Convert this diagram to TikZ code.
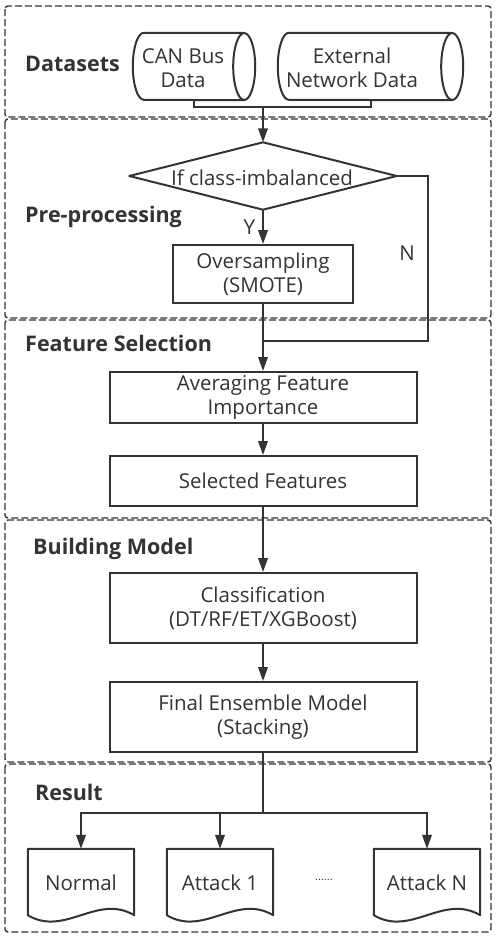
\documentclass[tikz,border=0pt]{standalone}
\usepackage{fontspec}
\setmainfont{Open Sans}
\usetikzlibrary{arrows.meta}
\definecolor{ink}{HTML}{333333}
\tikzset{
  sect/.style={draw=ink, line width=1.4pt, dash pattern=on 7pt off 3pt, rounded corners=3pt},
  box/.style={draw=ink, line width=2pt, align=center, text=ink, inner sep=0pt, font=\fontsize{20.5}{24}\selectfont},
  ghost/.style={draw=none, inner sep=0pt},
  txt/.style={text=ink, align=center, inner sep=0pt, font=\fontsize{20.5}{24}\selectfont},
  lbl/.style={text=ink, anchor=west, inner sep=0pt, font=\fontsize{21.5}{24}\selectfont\bfseries},
  conn/.style={draw=ink, line width=2pt},
  arr/.style={conn, -{Triangle[length=14pt,width=9.5pt]}},
  shp/.style={draw=ink, line width=2pt, line join=round},
}
\begin{document}
\begin{tikzpicture}[x=1pt,y=-1pt]
\useasboundingbox (0,0) rectangle (498,938);
\fill[white] (0,0) rectangle (498,938);
% section frames
\draw[sect] (5,6) rectangle (491,117);
\draw[sect] (5,119) rectangle (491,318);
\draw[sect] (5,320) rectangle (491,518);
\draw[sect] (5,520) rectangle (491,762);
\draw[sect] (5,764) rectangle (491,932);
% section labels
\node[lbl] (l1) at (25,64) {Datasets};
\node[lbl] (l2) at (25,217) {Pre-processing};
\node[lbl] (l3) at (25,343) {Feature Selection};
\node[lbl] (l4) at (33,549) {Building Model};
\node[lbl] (l5) at (35,792) {Result};
% cylinders
\node[ghost, minimum width=122pt, minimum height=67pt] (can) at (194,66.5) {};
\node[txt] (cant) at (183,68) {CAN Bus\\Data};
\draw[shp] ([xshift=-11pt]can.north east) -- ([xshift=11pt]can.north west)
  arc[start angle=90, end angle=270, x radius=11pt, y radius=33.5pt]
  -- ([xshift=-11pt]can.south east);
\draw[shp] ([xshift=-11pt]can.east) ellipse[x radius=11pt, y radius=33.5pt];
\node[ghost, minimum width=185pt, minimum height=67pt] (ext) at (370.5,66.5) {};
\node[txt] (extt) at (352,68) {External\\Network Data};
\draw[shp] ([xshift=-11pt]ext.north east) -- ([xshift=11pt]ext.north west)
  arc[start angle=90, end angle=270, x radius=11pt, y radius=33.5pt]
  -- ([xshift=-11pt]ext.south east);
\draw[shp] ([xshift=-11pt]ext.east) ellipse[x radius=11pt, y radius=33.5pt];
% decision
\node[ghost, minimum width=267pt, minimum height=67pt] (dec) at (263,176) {};
\node[txt] (dect) at (262,178) {If class-imbalanced};
\draw[shp] (dec.north) -- (dec.east) -- (dec.south) -- (dec.west) -- cycle;
% boxes
\node[box, minimum width=180pt, minimum height=58pt] (over) at (263,274) {Oversampling\\(SMOTE)};
\node[box, minimum width=307pt, minimum height=51pt] (avg) at (263,397.5) {Averaging Feature\\Importance};
\node[box, minimum width=307pt, minimum height=50pt] (sel) at (263,481) {Selected Features};
\node[box, minimum width=307pt, minimum height=70pt] (cls) at (263,608) {Classification\\(DT/RF/ET/XGBoost)};
\node[box, minimum width=307pt, minimum height=70pt] (fin) at (263,717) {Final Ensemble Model\\(Stacking)};
% documents
\foreach \n/\cx/\t in {normal/81/Normal, att1/220/Attack 1, attn/427/Attack N}{
  \node[ghost, minimum width=106pt, minimum height=66pt] (\n) at (\cx,882) {};
  \node[txt] at (\cx,883) {\t};
  \draw[shp] (\n.north west) -- (\n.north east) -- (\n.south east)
    .. controls ([xshift=-37pt,yshift=22pt]\n.south east) and ([xshift=37pt,yshift=-22pt]\n.south west) .. (\n.south west) -- cycle;
}
\node[txt, font=\fontsize{11}{12}\selectfont] (dots) at (324,880) {......};
% coordinates
\coordinate (j1) at (263,107);
\coordinate (nc) at (428,176);
\coordinate (j2) at (263,341);
\coordinate (j3) at (263,813);
% connectors
\draw[conn] (can.south) |- (j1) -| (ext.south);
\draw[arr] (j1) -- (dec.north);
\draw[arr] (dec.south) -- node[txt, left=7pt, pos=0.5] (ylab) {Y} (over.north);
\draw[conn] (dec.east) -- (nc) |- (j2);
\node[txt] (nlab) at (407,253) {N};
\draw[arr] (over.south) -- (avg.north);
\draw[arr] (avg.south) -- (sel.north);
\draw[arr] (sel.south) -- (cls.north);
\draw[arr] (cls.south) -- (fin.north);
\draw[conn] (fin.south) -- (j3);
\draw[arr] (j3) -| (normal.north);
\draw[arr] (j3) -| (att1.north);
\draw[arr] (j3) -| (attn.north);
\end{tikzpicture}
\end{document}
